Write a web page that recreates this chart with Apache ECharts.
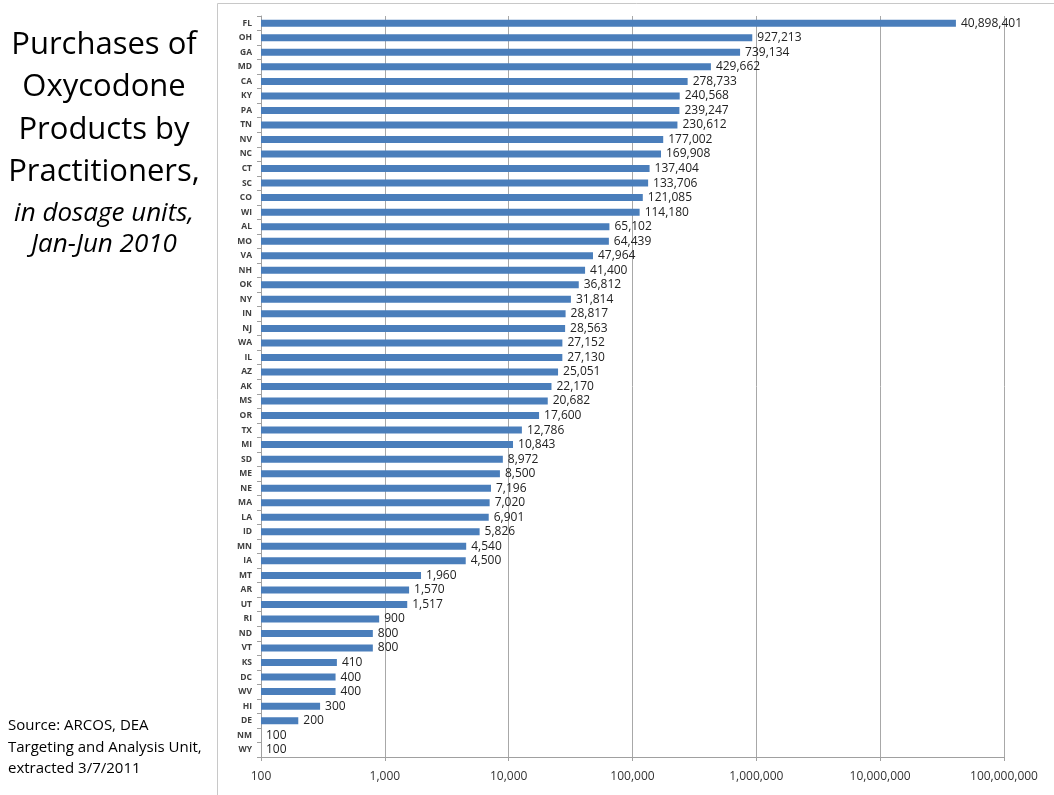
<!DOCTYPE html>
<html><head><meta charset="utf-8">
<script src="https://cdn.jsdelivr.net/npm/echarts@6/dist/echarts.min.js"></script>
<style>html,body{margin:0;padding:0;background:#fff}#c{width:1054px;height:795px}</style>
</head><body><div id="c"></div>
<script>
var states = ["FL","OH","GA","MD","CA","KY","PA","TN","NV","NC","CT","SC","CO","WI","AL","MO","VA","NH","OK","NY","IN","NJ","WA","IL","AZ","AK","MS","OR","TX","MI","SD","ME","NE","MA","LA","ID","MN","IA","MT","AR","UT","RI","ND","VT","KS","DC","WV","HI","DE","NM","WY"];
var dosageUnits = [40898401,927213,739134,429662,278733,240568,239247,230612,177002,169908,137404,133706,121085,114180,65102,64439,47964,41400,36812,31814,28817,28563,27152,27130,25051,22170,20682,17600,12786,10843,8972,8500,7196,7020,6901,5826,4540,4500,1960,1570,1517,900,800,800,410,400,400,300,200,100,100];
var titleLines = ["Purchases of","Oxycodone","Products by","Practitioners,"];
var subtitleLines = ["in dosage units,","Jan-Jun 2010"];
var sourceLines = ["Source: ARCOS, DEA","Targeting and Analysis Unit,","extracted 3/7/2011"];

var font = "'Open Sans', 'Liberation Sans', sans-serif";
var graphics = [{
  type:'rect', shape:{x:217.5,y:3.5,width:840,height:800}, style:{fill:'none',stroke:'#c8c8c8',lineWidth:1}, z:-1
}];
var ty = [45,87,130,172];
titleLines.forEach(function(t,i){
  graphics.push({type:'text', x:104, y:ty[i], style:{text:t, font:'31px '+font, fill:'#000', textAlign:'center', textVerticalAlign:'middle'}});
});
var sy = [214,245];
subtitleLines.forEach(function(t,i){
  graphics.push({type:'text', x:104, y:sy[i], style:{text:t, font:'italic 26px '+font, fill:'#000', textAlign:'center', textVerticalAlign:'middle'}});
});
var sry = [726,748,769];
sourceLines.forEach(function(t,i){
  graphics.push({type:'text', x:8, y:sry[i], style:{text:t, font:'15px '+font, fill:'#000', textAlign:'left', textVerticalAlign:'middle'}});
});

var chart = echarts.init(document.getElementById('c'));
chart.setOption({
  animation:false,
  graphic: graphics,
  grid:{left:261, right:50, top:16, bottom:38},
  xAxis:{type:'log', logBase:10, min:100, max:100000000,
    axisLine:{show:true, lineStyle:{color:'#a0a0a0'}},
    axisTick:{show:true, length:4, lineStyle:{color:'#a0a0a0'}},
    splitLine:{show:true, lineStyle:{color:'#a8a8a8', width:1}},
    axisLabel:{margin:14, fontSize:12, color:'#333', fontFamily:font, formatter:function(v){return Number(v).toLocaleString('en-US');}}
  },
  yAxis:{type:'category', data:states, inverse:true,
    axisLine:{show:true, lineStyle:{color:'#a0a0a0'}},
    axisTick:{show:true, length:4, lineStyle:{color:'#a0a0a0'}},
    axisLabel:{fontSize:8.5, fontWeight:'bold', color:'#404040', fontFamily:font, margin:9, interval:0}
  },
  series:[{type:'bar', data:dosageUnits, barWidth:7,
    itemStyle:{color:'#4a7ebb'},
    label:{show:true, position:'right', distance:5, fontSize:12, color:'#222', fontFamily:font,
      formatter:function(p){return p.value.toLocaleString('en-US');}}
  }]
});
</script></body></html>
